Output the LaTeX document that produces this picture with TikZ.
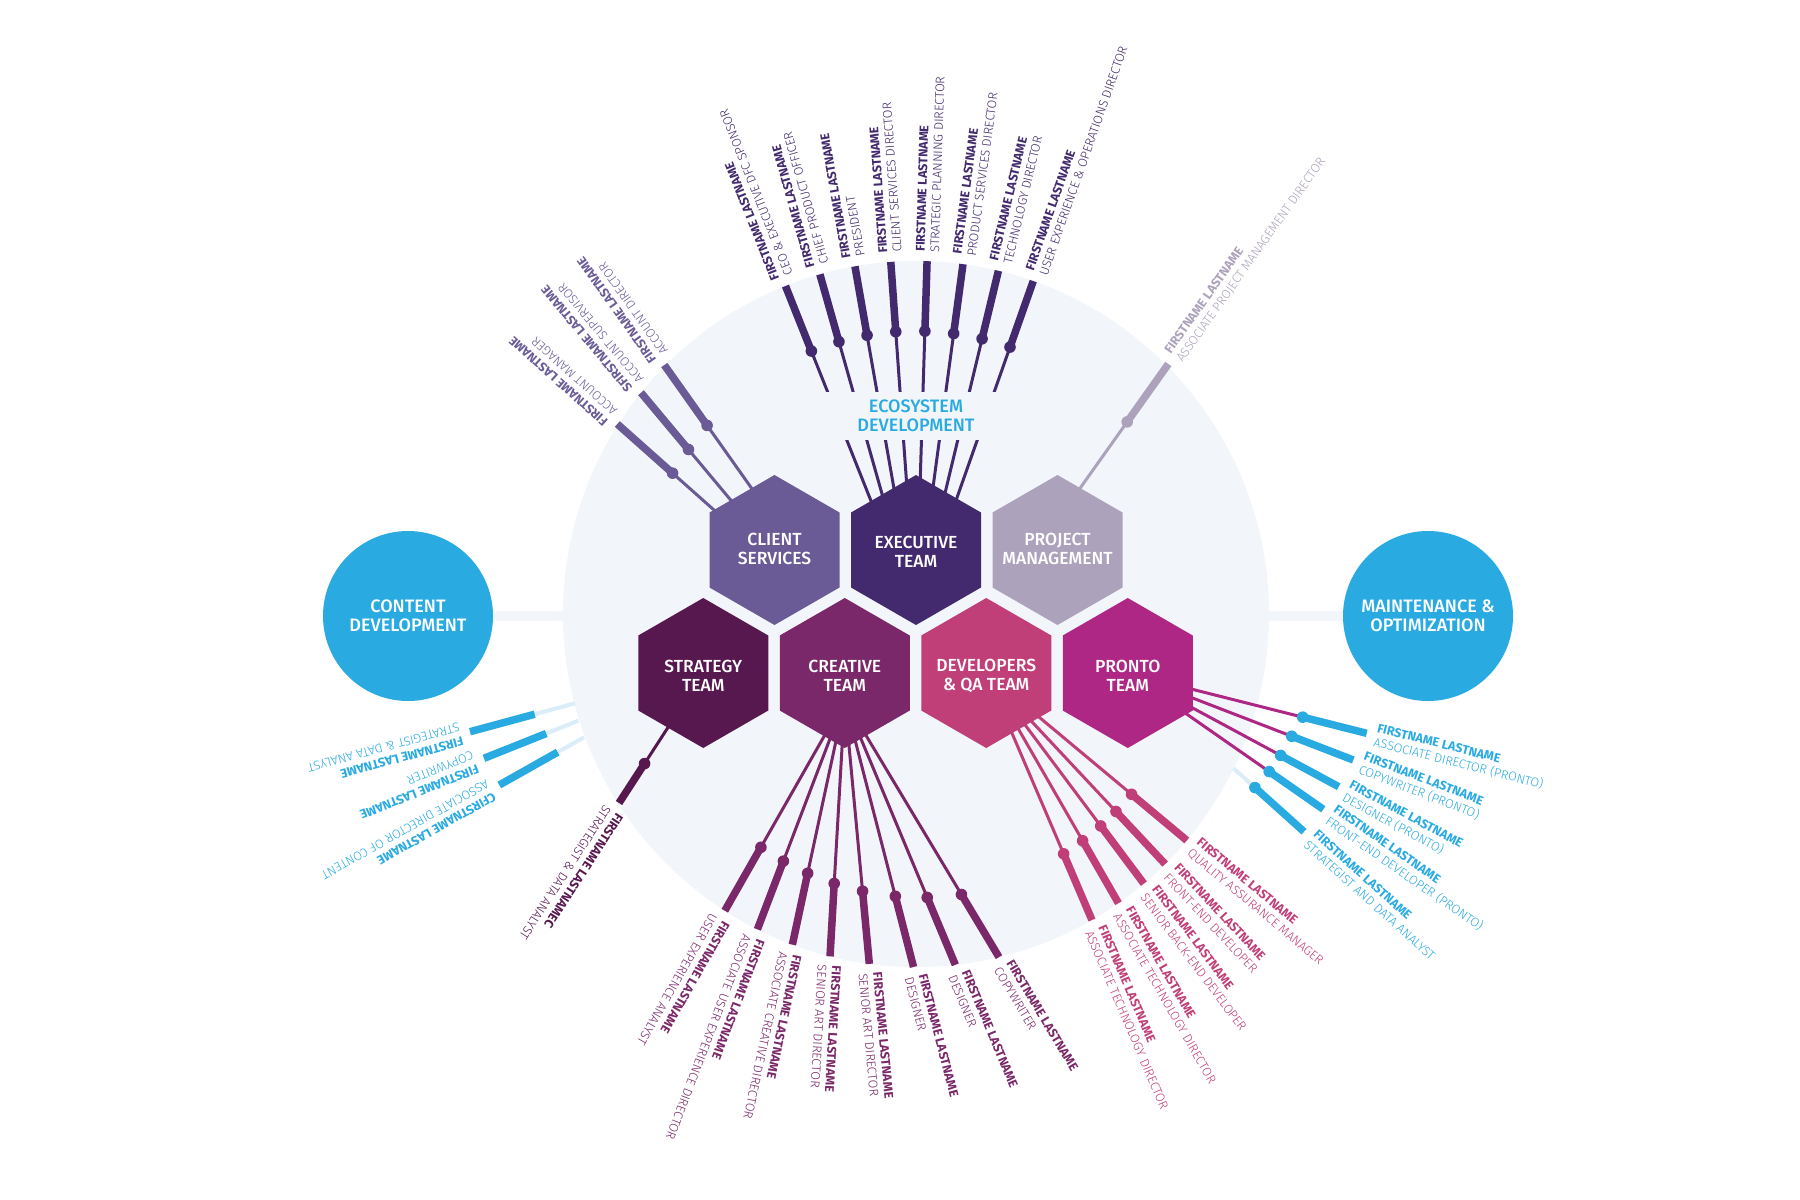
\documentclass[tikz,border=0pt]{standalone}
\usepackage{fontspec}
\setmainfont{Fira Sans}
\newfontfamily\lightfont{Fira Sans Light}
\newfontfamily\medfont{Fira Sans Medium}
\usetikzlibrary{calc}
\definecolor{bgc}{HTML}{F2F6FA}
\definecolor{csc}{HTML}{6A5B97}
\definecolor{exc}{HTML}{432A6F}
\definecolor{pmc}{HTML}{ADA2BC}
\definecolor{stc}{HTML}{57184F}
\definecolor{crc}{HTML}{7A2869}
\definecolor{dvc}{HTML}{C13F78}
\definecolor{prc}{HTML}{AE2785}
\definecolor{blc}{HTML}{29ABE2}
\definecolor{lightc}{HTML}{DAEDF9}
\tikzset{
  thickl/.style={line width=7.5pt, line cap=butt},
  exthin/.style={draw=exc,line width=3pt},
  csthin/.style={draw=csc,line width=3pt},
  pmthin/.style={draw=pmc,line width=3pt},
  stthin/.style={draw=stc,line width=3pt},
  crthin/.style={draw=crc,line width=3pt},
  dvthin/.style={draw=dvc,line width=3pt},
  prthin/.style={draw=prc,line width=3pt},
  ltthin/.style={draw=lightc,line width=4pt},
  lbl/.style={sloped, allow upside down, anchor=west, inner xsep=9pt, inner ysep=0pt,
    align=left, font=\fontsize{12.6}{14.5}\selectfont},
  hexlbl/.style={text=white, align=center, inner sep=0pt,
    font=\medfont\fontsize{17.5}{19}\selectfont},
  bigcirc/.style={circle, fill=blc, minimum size=170pt, inner sep=0pt, text=white,
    align=center, font=\medfont\fontsize{18}{19}\selectfont},
  band/.style={draw=bgc, line width=10pt},
  eco/.style={text=blc, align=center, inner sep=0pt, font=\medfont\fontsize{18}{19}\selectfont}
}
% #1 id, #2 inner start, #3 outer end, #4 bar length, #5 thin style, #6 bar colour, #7 text colour, #8 name, #9 title
\newcommand\spokebase[9]{%
  \coordinate (#1S) at #2;
  \coordinate (#1T) at #3;
  \coordinate (#1D) at ($(#1T)!#4!(#1S)$);
  \draw[#5] (#1S) -- (#1D);
  \draw[thickl,#6] (#1D) -- (#1T);
  \path (#1D) -- (#1T) node[lbl,text=#7,pos=1] (#1L) {{\bfseries #8}\\{\lightfont #9}};
}
\newcommand\spoke[9]{\spokebase{#1}{#2}{#3}{#4}{#5}{#6}{#7}{#8}{#9}\fill[#6] (#1D) circle (5.8);}
\newcommand\hexa[2]{% #1 centre, #2 colour
  \fill[#2] #1 ++(0,-75) -- ++(65,37.5) -- ++(0,75) -- ++(-65,37.5) -- ++(-65,-37.5) -- ++(0,-75) -- cycle;}
\begin{document}
\begin{tikzpicture}[x=1pt,y=-1pt]
\useasboundingbox (0,0) rectangle (1800,1200);
\fill[white] (0,0) rectangle (1800,1200);
\coordinate (O) at (916,614);
\coordinate (cdc) at (408,616);
\coordinate (moc) at (1428,616);
\coordinate (hcs) at (774.5,550);
\coordinate (hex) at (916,550);
\coordinate (hpm) at (1057.5,550);
\coordinate (hst) at (703.25,673);
\coordinate (hcr) at (844.75,673);
\coordinate (hdv) at (986.25,673);
\coordinate (hpr) at (1127.75,673);

\fill[bgc] (O) circle (353);
\draw[band] (cdc) -- (moc);
\node[bigcirc] (cd) at (cdc) {CONTENT\\DEVELOPMENT};
\node[bigcirc] (mo) at (moc) {MAINTENANCE \&\\OPTIMIZATION};

% executive team
\spoke{e0}{(O)}{($(O)+(-111.7:353)$)}{70pt}{exthin}{exc}{exc}{FIRSTNAME LASTNAME}{CEO \& EXECUTIVE DFC SPONSOR}
\spoke{e1}{(O)}{($(O)+(-105.8:353)$)}{70pt}{exthin}{exc}{exc}{FIRSTNAME LASTNAME}{CHIEF PRODUCT OFFICER}
\spoke{e2}{(O)}{($(O)+(-99.96:353)$)}{70pt}{exthin}{exc}{exc}{FIRSTNAME LASTNAME}{PRESIDENT}
\spoke{e3}{(O)}{($(O)+(-94.1:353)$)}{70pt}{exthin}{exc}{exc}{FIRSTNAME LASTNAME}{CLIENT SERVICES DIRECTOR}
\spoke{e4}{(O)}{($(O)+(-88.2:353)$)}{70pt}{exthin}{exc}{exc}{FIRSTNAME LASTNAME}{STRATEGIC PLANNING DIRECTOR}
\spoke{e5}{(O)}{($(O)+(-82.35:353)$)}{70pt}{exthin}{exc}{exc}{FIRSTNAME LASTNAME}{PRODUCT SERVICES DIRECTOR}
\spoke{e6}{(O)}{($(O)+(-76.5:353)$)}{70pt}{exthin}{exc}{exc}{FIRSTNAME LASTNAME}{TECHNOLOGY DIRECTOR}
\spoke{e7}{(O)}{($(O)+(-70.6:353)$)}{70pt}{exthin}{exc}{exc}{FIRSTNAME LASTNAME}{USER EXPERIENCE \& OPERATIONS DIRECTOR}

% client services
\spoke{c1}{(747.4,539.7)}{(617.3,424)}{74pt}{csthin}{csc}{csc}{FIRSTNAME LASTNAME}{ACCOUNT MANAGER}
\spoke{c2}{(752.4,526)}{(641,392.7)}{74pt}{csthin}{csc}{csc}{SFIRSTNAME LASTNAME}{ACCOUNT SUPERVISOR}
\spoke{c3}{(765.1,507.3)}{(664.3,365)}{74pt}{csthin}{csc}{csc}{FIRSTNAME LASTNAME}{ACCOUNT DIRECTOR}

% project management
\spoke{pm}{(1069.4,503.2)}{(1168.3,364)}{71pt}{pmthin}{pmc}{pmc}{FIRSTNAME LASTNAME}{ASSOCIATE PROJECT MANAGEMENT DIRECTOR}

% strategy
\spoke{st}{(hst)}{(619,803)}{47pt}{stthin}{stc}{stc}{FIRSTNAME LASTNAMEC}{STRATEGIST \& DATA ANALYST}

% creative
\coordinate (crs) at (844.75,700);
\spoke{r1}{(crs)}{($(O)+(-237.2:353)$)}{73pt}{crthin}{crc}{crc}{FIRSTNAME LASTNAME}{USER EXPERIENCE ANALYST}
\spoke{r2}{(crs)}{($(O)+(-243.3:353)$)}{73pt}{crthin}{crc}{crc}{FIRSTNAME LASTNAME}{ASSOCIATE USER EXPERIENCE DIRECTOR}
\spoke{r3}{(crs)}{($(O)+(-249.5:353)$)}{73pt}{crthin}{crc}{crc}{FIRSTNAME LASTNAME}{ASSOCIATE CREATIVE DIRECTOR}
\spoke{r4}{(crs)}{($(O)+(-255.9:353)$)}{73pt}{crthin}{crc}{crc}{FIRSTNAME LASTNAME}{SENIOR ART DIRECTOR}
\spoke{r5}{(crs)}{($(O)+(-262.4:353)$)}{73pt}{crthin}{crc}{crc}{FIRSTNAME LASTNAME}{SENIOR ART DIRECTOR}
\spoke{r6}{(crs)}{($(O)+(-269.6:353)$)}{73pt}{crthin}{crc}{crc}{FIRSTNAME LASTNAME}{DESIGNER}
\spoke{r7}{(crs)}{($(O)+(-276.4:353)$)}{73pt}{crthin}{crc}{crc}{FIRSTNAME LASTNAME}{DESIGNER}
\spoke{r8}{(crs)}{($(O)+(-283.6:353)$)}{73pt}{crthin}{crc}{crc}{FIRSTNAME LASTNAME}{COPYWRITER}

% developers & QA
\spoke{d1}{(hdv)}{($(O)+(39.9:353)$)}{72pt}{dvthin}{dvc}{dvc}{FIRSTNAME LASTNAME}{QUALITY ASSURANCE MANAGER}
\spoke{d2}{(hdv)}{($(O)+(45.1:353)$)}{72pt}{dvthin}{dvc}{dvc}{FIRSTNAME LASTNAME}{FRONT-END DEVELOPER}
\spoke{d3}{(hdv)}{($(O)+(49.8:353)$)}{72pt}{dvthin}{dvc}{dvc}{FIRSTNAME LASTNAME}{SENIOR BACK-END DEVELOPER}
\spoke{d4}{(hdv)}{($(O)+(55:353)$)}{72pt}{dvthin}{dvc}{dvc}{FIRSTNAME LASTNAME}{ASSOCIATE TECHNOLOGY DIRECTOR}
\spoke{d5}{(hdv)}{($(O)+(60.1:353)$)}{72pt}{dvthin}{dvc}{dvc}{FIRSTNAME LASTNAME}{ASSOCIATE TECHNOLOGY DIRECTOR}

% pronto
\spoke{p1}{(hpr)}{(1366.7,733.3)}{66pt}{prthin}{blc}{blc}{FIRSTNAME LASTNAME}{ASSOCIATE DIRECTOR (PRONTO)}
\spoke{p2}{(hpr)}{(1353.3,760)}{66pt}{prthin}{blc}{blc}{FIRSTNAME LASTNAME}{COPYWRITER (PRONTO)}
\spoke{p3}{(hpr)}{(1338.7,786.7)}{66pt}{prthin}{blc}{blc}{FIRSTNAME LASTNAME}{DESIGNER (PRONTO)}
\spoke{p4}{(hpr)}{(1323.3,809.3)}{66pt}{prthin}{blc}{blc}{FIRSTNAME LASTNAME}{FRONT-END DEVELOPER (PRONTO)}
\spoke{p5}{(1233.5,768.3)}{(1304,831.7)}{66pt}{ltthin}{blc}{blc}{FIRSTNAME LASTNAME}{STRATEGIST AND DATA ANALYST}

% content development
\spokebase{k1}{(575,703.3)}{(470,731.7)}{67pt}{ltthin}{blc}{blc}{FIRSTNAME LASTNAME}{STRATEGIST \& DATA ANALYST}
\spokebase{k2}{(578.3,720.7)}{(484,758.3)}{67pt}{ltthin}{blc}{blc}{FIRSTNAME LASTNAME}{COPYWRITER}
\spokebase{k3}{(584,737.3)}{(499.3,785)}{67pt}{ltthin}{blc}{blc}{CFIRSTNAME LASTNAME}{ASSOCIATE DIRECTOR OF CONTENT}

% ecosystem label with its gap
\fill[bgc] (815,392) rectangle (1010,440);
\node[eco] (eco) at (916,416) {ECOSYSTEM\\DEVELOPMENT};

% hexagons
\hexa{(hcs)}{csc}
\hexa{(hex)}{exc}
\hexa{(hpm)}{pmc}
\hexa{(hst)}{stc}
\hexa{(hcr)}{crc}
\hexa{(hdv)}{dvc}
\hexa{(hpr)}{prc}
\node[hexlbl] (tcs) at ($(hcs)+(0,-1)$) {CLIENT\\SERVICES};
\node[hexlbl] (tex) at ($(hex)+(0,2)$) {EXECUTIVE\\TEAM};
\node[hexlbl] (tpm) at ($(hpm)+(0,-1)$) {PROJECT\\MANAGEMENT};
\node[hexlbl] (tst) at ($(hst)+(0,3)$) {STRATEGY\\TEAM};
\node[hexlbl] (tcr) at ($(hcr)+(0,3)$) {CREATIVE\\TEAM};
\node[hexlbl] (tdv) at ($(hdv)+(0,3)$) {DEVELOPERS\\\& QA TEAM};
\node[hexlbl] (tpr) at ($(hpr)+(0,3)$) {PRONTO\\TEAM};
\end{tikzpicture}
\end{document}
